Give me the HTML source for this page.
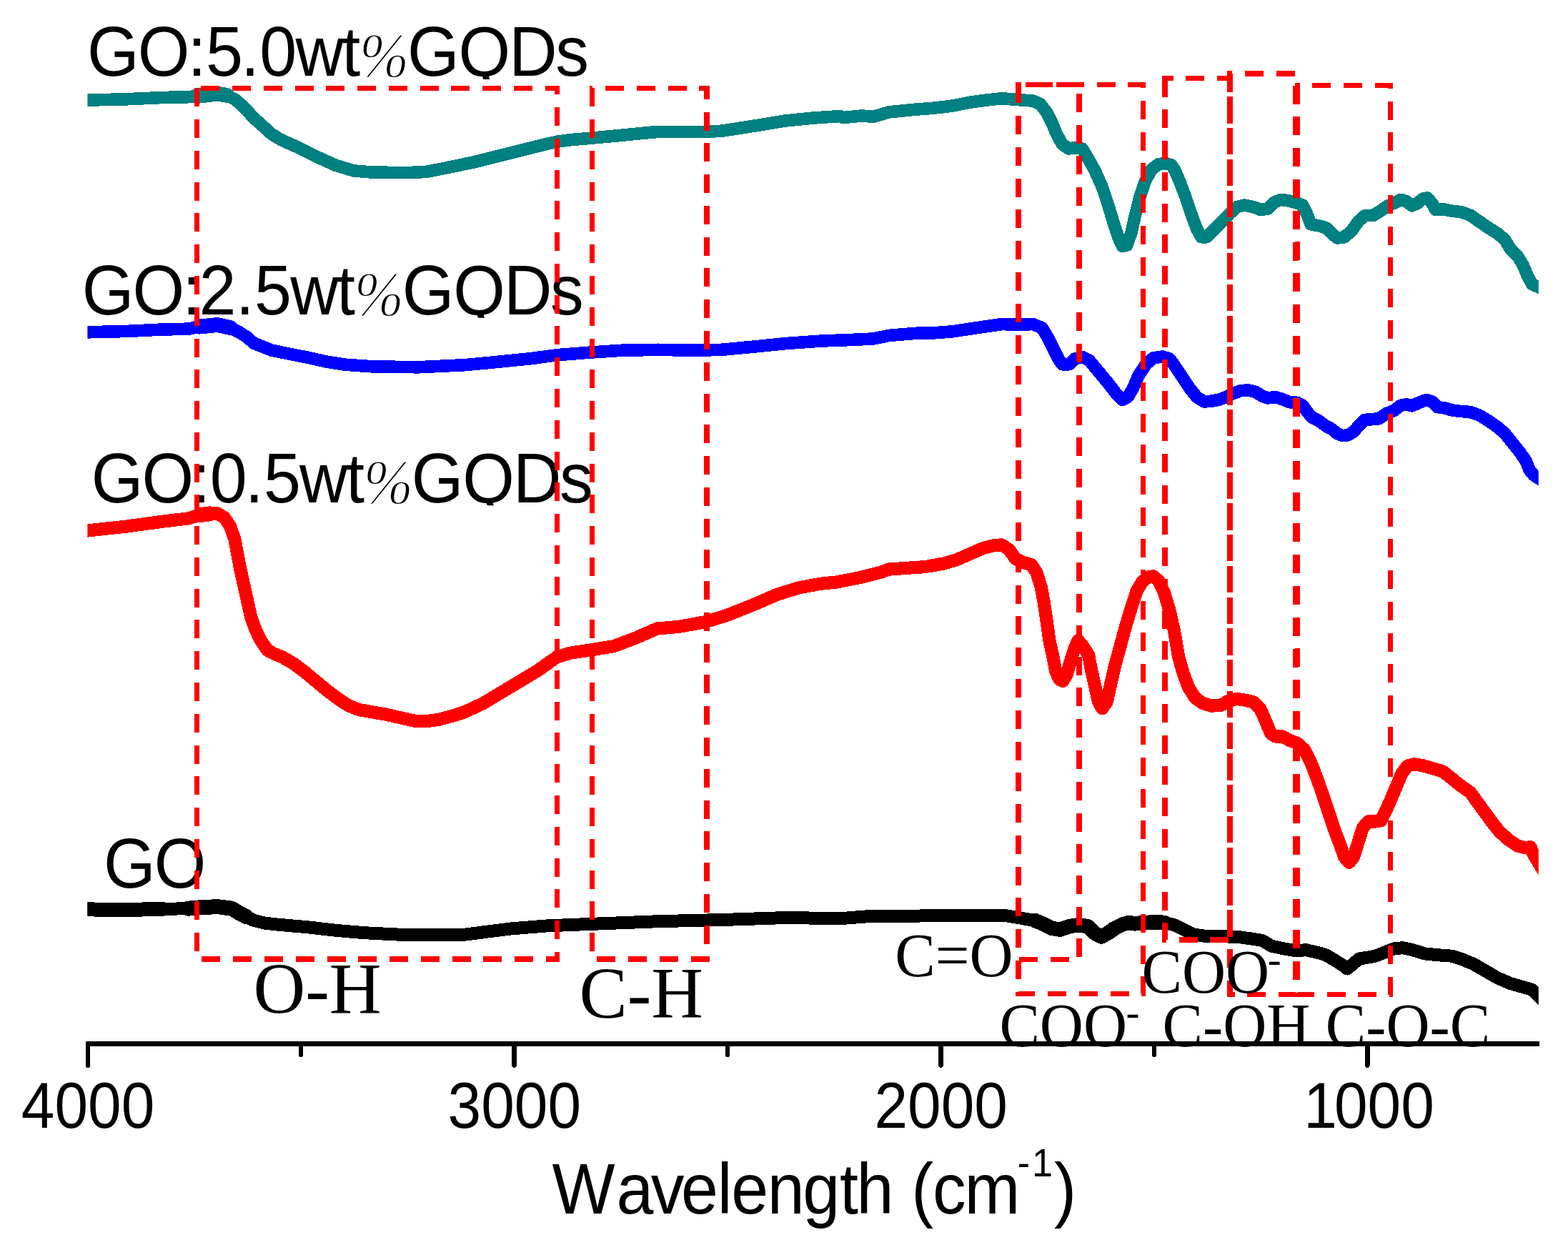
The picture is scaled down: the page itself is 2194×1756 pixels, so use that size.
<!DOCTYPE html>
<html><head><meta charset="utf-8"><title>FTIR spectra</title>
<style>
html,body{margin:0;padding:0;background:#fff;}
body{width:2194px;height:1756px;overflow:hidden;}
svg{display:block;}
</style></head>
<body>
<svg width="2194" height="1756" viewBox="0 0 2194 1756">
<rect width="2194" height="1756" fill="#fff"/>
<g stroke="#000" stroke-width="6.4" fill="none" stroke-linecap="round" shape-rendering="crispEdges">
<path d="M119.6 1460.2 H2153.5" stroke-width="7.0" stroke-linecap="butt"/>
<path d="M122.8 1460.2 V1490.8"/>
<path d="M719.6 1460.2 V1490.8"/>
<path d="M1316.5 1460.2 V1490.8"/>
<path d="M1913.4 1460.2 V1490.8"/>
<path d="M421.2 1460.2 V1475.7"/>
<path d="M1018.1 1460.2 V1475.7"/>
<path d="M1614.9 1460.2 V1475.7"/>
</g>
<defs><clipPath id="plotclip"><rect x="122.4" y="0" width="2030.4" height="1500"/></clipPath></defs>
<g clip-path="url(#plotclip)" fill="none" stroke-linejoin="round" shape-rendering="crispEdges">
<path d="M110.4 1272.3 L122.4 1272.4 L176.5 1273.0 L227.6 1271.9 L263.3 1271.2 L278.6 1269.9 L304.1 1268.6 L324.5 1271.2 L334.7 1277.6 L344.9 1282.7 L355.1 1287.8 L370.4 1291.6 L393.4 1294.1 L431.6 1297.4 L469.9 1301.8 L508.2 1305.1 L559.2 1307.7 L610.2 1308.2 L650.0 1307.7 L714.3 1299.5 L765.3 1295.4 L816.3 1293.3 L918.4 1289.3 L1020.4 1286.7 L1094.0 1284.2 L1180.0 1284.9 L1222.1 1281.6 L1256.5 1282.1 L1307.6 1281.1 L1358.6 1280.8 L1407.0 1281.1 L1424.9 1284.1 L1447.9 1288.0 L1460.6 1293.1 L1470.8 1298.7 L1483.6 1300.7 L1496.3 1296.1 L1509.1 1294.3 L1521.8 1296.1 L1532.0 1305.8 L1541.0 1310.4 L1549.9 1305.8 L1560.1 1298.7 L1570.3 1293.6 L1579.2 1291.0 L1588.2 1292.3 L1600.9 1291.0 L1613.7 1290.5 L1629.0 1290.8 L1641.7 1293.8 L1644.0 1294.6 L1654.2 1299.7 L1669.5 1307.3 L1689.9 1310.4 L1710.3 1310.4 L1730.7 1310.7 L1751.1 1313.5 L1766.4 1316.0 L1779.2 1323.7 L1797.1 1327.5 L1812.4 1330.1 L1827.7 1329.3 L1843.0 1332.6 L1855.7 1336.4 L1868.5 1344.1 L1878.7 1350.5 L1885.1 1355.6 L1892.7 1349.2 L1901.7 1341.5 L1914.4 1339.5 L1924.6 1337.7 L1937.4 1332.6 L1950.1 1327.5 L1962.9 1326.2 L1975.6 1328.8 L1993.5 1334.4 L2013.9 1336.4 L2031.8 1337.7 L2047.1 1342.8 L2062.4 1349.2 L2077.7 1358.1 L2095.5 1368.3 L2113.4 1376.0 L2131.2 1381.1 L2144.0 1384.9 L2152.9 1393.8 L2164.8 1405.7" stroke="#000" stroke-width="18"/>
<path d="M110.4 1272.3 L122.4 1272.4 L176.5 1273.0 L227.6 1271.9" stroke="#000" stroke-width="20" stroke-linecap="round"/>
<path d="M263.3 1271.2 L278.6 1269.9 L304.1 1268.6 L324.5 1271.2 L334.7 1277.6 L344.9 1282.7" stroke="#000" stroke-width="21" stroke-linecap="round"/>
<path d="M1447.9 1288.0 L1460.6 1293.1 L1470.8 1298.7 L1483.6 1300.7 L1496.3 1296.1 L1509.1 1294.3 L1521.8 1296.1 L1532.0 1305.8 L1541.0 1310.4 L1549.9 1305.8 L1560.1 1298.7 L1570.3 1293.6 L1579.2 1291.0 L1588.2 1292.3 L1600.9 1291.0 L1613.7 1290.5 L1629.0 1290.8" stroke="#000" stroke-width="20.5" stroke-linecap="round"/>
<path d="M110.4 743.8 L122.4 742.5 L176.5 736.6 L227.6 729.7 L263.3 725.4 L278.6 720.8 L293.9 718.8 L304.1 718.3 L314.3 724.6 L321.9 736.1 L328.3 754.0 L332.1 774.4 L336.0 794.8 L341.1 817.8 L346.2 840.7 L351.3 863.7 L357.7 881.5 L365.3 896.8 L374.2 909.6 L383.2 914.7 L395.9 919.8 L411.2 928.7 L426.5 940.2 L441.8 953.0 L457.1 965.7 L472.4 977.2 L487.8 987.4 L503.1 993.3 L520.9 996.3 L538.8 999.4 L559.2 1004.0 L579.6 1008.6 L597.4 1009.1 L615.3 1006.5 L635.7 1000.9 L650.0 996.3 L676.1 984.1 L714.1 961.3 L752.1 938.5 L778.8 919.5 L797.8 913.7 L828.2 909.2 L858.7 904.2 L889.1 892.8 L919.5 879.5 L949.9 876.9 L988.0 870.0 L1018.4 860.5 L1056.4 845.3 L1086.9 832.0 L1117.3 822.5 L1147.7 816.8 L1170.6 814.5 L1180.0 812.7 L1205.5 807.6 L1231.0 801.2 L1243.8 796.6 L1269.3 794.8 L1294.8 793.1 L1320.3 788.5 L1338.2 783.4 L1358.6 774.4 L1376.4 766.8 L1391.7 763.0 L1401.9 762.4 L1412.1 769.3 L1421.1 782.1 L1432.6 787.2 L1442.8 789.7 L1450.4 801.2 L1456.8 821.6 L1460.6 842.0 L1464.4 867.6 L1468.3 895.6 L1473.4 918.6 L1477.2 939.0 L1482.3 950.5 L1487.4 953.0 L1492.5 944.1 L1497.6 926.2 L1502.7 909.6 L1508.6 896.1 L1514.7 903.3 L1523.1 916.5 L1526.9 936.4 L1532.0 959.4 L1537.1 982.3 L1542.2 991.3 L1548.6 982.3 L1553.7 959.4 L1560.1 931.3 L1567.8 903.3 L1575.4 875.2 L1583.1 849.7 L1590.7 826.7 L1598.4 814.0 L1606.0 807.6 L1613.7 806.3 L1621.3 812.7 L1629.0 829.3 L1636.6 854.8 L1643.0 882.9 L1649.1 918.7 L1655.5 941.6 L1663.1 962.0 L1672.1 976.1 L1682.3 983.7 L1695.0 987.6 L1707.8 987.0 L1718.0 981.2 L1730.7 977.9 L1743.5 979.9 L1753.7 982.4 L1763.9 992.7 L1771.6 1010.5 L1777.9 1025.8 L1784.3 1030.4 L1794.5 1030.4 L1804.7 1036.0 L1814.9 1039.8 L1825.1 1048.8 L1834.1 1066.6 L1843.0 1089.6 L1851.9 1115.1 L1859.6 1138.1 L1867.2 1161.0 L1874.9 1181.4 L1881.2 1199.3 L1887.6 1206.9 L1894.0 1199.3 L1900.4 1178.9 L1906.8 1158.5 L1914.4 1149.5 L1923.3 1149.5 L1932.3 1148.3 L1939.9 1133.0 L1947.6 1115.1 L1955.2 1097.2 L1961.6 1081.9 L1969.3 1071.7 L1978.2 1069.2 L1990.9 1071.2 L2006.2 1075.6 L2019.0 1079.4 L2031.8 1089.6 L2044.5 1099.8 L2057.3 1108.7 L2067.5 1122.8 L2077.7 1136.8 L2087.9 1150.8 L2098.1 1163.6 L2110.8 1175.1 L2123.6 1183.5 L2133.8 1186.0 L2141.4 1185.3 L2145.3 1194.2 L2149.0 1201.0 L2153.0 1207.5 L2164.8 1226.7" stroke="#f00" stroke-width="18.2"/>
<path d="M278.6 720.8 L293.9 718.8" stroke="#f00" stroke-width="21" stroke-linecap="round"/>
<path d="M110.4 465.1 L122.4 464.8 L176.5 463.5 L227.6 461.0 L263.3 460.2 L278.6 457.1 L304.1 454.6 L321.9 458.4 L334.7 464.8 L344.9 471.2 L355.1 480.1 L367.9 485.2 L380.6 490.3 L406.1 495.4 L431.6 500.5 L457.1 506.1 L482.7 510.2 L520.9 512.8 L584.7 513.8 L623.0 512.0 L650.0 510.7 L691.0 506.9 L742.0 501.8 L779.8 496.7 L828.3 492.9 L869.6 490.3 L920.6 489.3 L971.6 490.3 L1009.9 489.3 L1048.2 485.7 L1099.2 480.6 L1150.2 477.0 L1190.0 475.5 L1222.1 474.0 L1243.8 469.4 L1282.0 466.3 L1307.6 465.8 L1333.1 463.8 L1358.6 459.9 L1384.1 456.1 L1401.9 453.6 L1424.9 454.1 L1445.3 453.6 L1458.1 458.7 L1465.7 471.4 L1473.4 486.7 L1481.0 502.0 L1486.1 509.7 L1496.3 509.7 L1504.0 502.0 L1514.2 499.5 L1524.4 504.6 L1537.1 519.9 L1549.9 535.2 L1562.7 551.8 L1570.3 559.4 L1578.0 555.6 L1585.6 542.9 L1593.3 525.0 L1603.5 509.7 L1613.7 500.8 L1626.4 499.0 L1636.6 502.0 L1644.0 512.2 L1654.2 527.6 L1664.4 542.9 L1674.6 555.6 L1684.8 562.0 L1695.0 561.2 L1705.2 559.4 L1715.4 555.6 L1725.6 550.5 L1735.8 546.7 L1746.0 545.9 L1756.2 548.0 L1766.4 554.3 L1774.1 556.9 L1784.3 555.6 L1794.5 558.7 L1804.7 562.8 L1814.9 563.3 L1822.6 567.1 L1828.9 576.0 L1835.3 583.7 L1845.5 588.8 L1855.7 596.4 L1863.4 600.3 L1871.0 606.6 L1878.7 609.7 L1886.3 608.7 L1894.0 604.1 L1901.7 595.2 L1909.3 587.5 L1919.5 586.7 L1929.7 585.7 L1939.9 578.6 L1950.1 574.7 L1960.3 567.1 L1968.0 565.8 L1975.6 567.9 L1985.8 563.3 L1996.0 559.4 L2003.7 562.0 L2011.3 569.6 L2021.6 570.9 L2031.8 574.0 L2044.5 575.5 L2057.3 576.5 L2070.0 581.1 L2082.8 588.8 L2095.5 597.7 L2105.7 606.6 L2115.9 619.4 L2126.1 632.1 L2135.1 644.9 L2140.2 657.7 L2146.6 665.3 L2152.9 669.1 L2164.8 676.3" stroke="#00f" stroke-width="17.6"/>
<path d="M278.6 457.1 L304.1 454.6 L321.9 458.4" stroke="#00f" stroke-width="21" stroke-linecap="round"/>
<path d="M110.4 140.3 L122.4 140.1 L176.5 138.8 L227.6 136.5 L263.3 135.7 L276.0 134.4 L291.3 132.7 L304.1 131.1 L316.8 133.2 L329.6 139.5 L342.3 151.0 L355.1 165.1 L367.9 176.5 L380.6 188.0 L393.4 195.7 L418.9 207.1 L444.4 219.9 L469.9 231.4 L495.4 239.0 L520.9 241.1 L571.9 241.6 L597.4 240.3 L623.0 235.2 L650.0 229.6 L665.5 226.3 L691.0 219.9 L716.5 213.5 L742.0 207.1 L767.6 200.8 L779.8 198.2 L798.2 195.7 L828.3 193.1 L869.6 189.3 L895.1 186.7 L920.6 184.4 L946.1 184.7 L989.0 184.4 L1009.9 183.2 L1048.2 177.3 L1099.2 168.9 L1137.4 165.1 L1175.7 162.5 L1180.0 164.6 L1205.5 162.0 L1222.1 163.3 L1243.8 156.9 L1282.0 153.1 L1307.6 151.1 L1333.1 148.0 L1358.6 142.9 L1384.1 139.6 L1401.9 137.8 L1424.9 139.6 L1445.3 141.1 L1455.5 145.5 L1464.4 156.9 L1472.1 172.2 L1478.5 187.6 L1486.1 201.6 L1495.1 208.0 L1504.0 206.7 L1514.2 208.0 L1521.8 220.7 L1532.0 238.6 L1542.2 261.5 L1549.9 284.5 L1557.6 310.0 L1565.2 333.0 L1570.3 344.4 L1576.7 343.2 L1583.1 325.3 L1588.2 302.3 L1594.5 276.8 L1602.2 253.9 L1611.1 237.3 L1621.3 229.6 L1630.3 228.4 L1639.2 230.9 L1644.0 238.6 L1651.7 256.4 L1659.3 276.8 L1667.0 299.8 L1674.6 320.2 L1681.0 331.7 L1688.6 331.7 L1697.6 322.8 L1710.3 310.0 L1721.0 298.5 L1730.7 289.6 L1740.9 287.0 L1753.7 289.6 L1763.9 293.4 L1774.1 292.1 L1783.0 283.2 L1792.0 279.4 L1802.2 280.7 L1812.4 283.2 L1822.6 287.0 L1828.9 299.8 L1834.1 313.8 L1845.5 315.9 L1855.7 318.9 L1863.4 326.6 L1871.0 333.0 L1881.2 331.7 L1891.4 322.8 L1900.4 310.0 L1909.3 301.8 L1922.1 301.1 L1932.3 294.7 L1941.2 288.3 L1950.1 284.5 L1960.3 279.4 L1968.0 281.9 L1975.6 287.8 L1983.3 284.5 L1990.9 278.1 L1997.3 276.8 L2003.7 284.5 L2008.8 293.4 L2019.0 292.7 L2031.8 295.2 L2044.5 296.7 L2057.3 301.1 L2070.0 310.0 L2082.8 318.9 L2095.5 326.6 L2105.7 335.5 L2113.4 348.3 L2123.6 358.5 L2131.2 371.2 L2137.6 386.5 L2144.0 398.0 L2152.9 401.8 L2164.8 406.9" stroke="#008080" stroke-width="17.6"/>
<path d="M276.0 134.4 L291.3 132.7 L304.1 131.1 L316.8 133.2" stroke="#008080" stroke-width="21" stroke-linecap="round"/>
</g>
<defs><clipPath id="labclip"><rect x="0" y="-130" width="2400" height="134.5"/></clipPath></defs>
<text transform="translate(0 106.4) scale(0.9450 1)" font-family="'Liberation Sans', Arial, Helvetica, sans-serif" font-size="98.8" clip-path="url(#labclip)"><tspan x="129.1 204.0 277.8 304.8 356.7 384.5 437.5 506.2" y="0.0" font-size="98.8">GO:5.0wt</tspan><tspan x="532.2" y="1.0" font-size="88.0" font-family="'Liberation Serif', 'Times New Roman', Times, serif" font-style="italic" stroke="#fff" stroke-width="1.8">%</tspan><tspan x="603.3 678.9 753.7 822.6" y="0.0" font-size="98.8">GQDs</tspan></text>
<text transform="translate(0 440.3) scale(0.9450 1)" font-family="'Liberation Sans', Arial, Helvetica, sans-serif" font-size="98.8" clip-path="url(#labclip)"><tspan x="121.4 196.3 270.0 294.6 349.0 376.8 429.8 498.5" y="0.0" font-size="98.8">GO:2.5wt</tspan><tspan x="524.5" y="1.0" font-size="88.0" font-family="'Liberation Serif', 'Times New Roman', Times, serif" font-style="italic" stroke="#fff" stroke-width="1.8">%</tspan><tspan x="595.6 671.2 746.0 814.9" y="0.0" font-size="98.8">GQDs</tspan></text>
<text transform="translate(0 702.8) scale(0.9450 1)" font-family="'Liberation Sans', Arial, Helvetica, sans-serif" font-size="98.8" clip-path="url(#labclip)"><tspan x="135.1 210.0 283.8 310.9 362.7 390.5 443.5 512.3" y="0.0" font-size="98.8">GO:0.5wt</tspan><tspan x="538.3" y="1.0" font-size="88.0" font-family="'Liberation Serif', 'Times New Roman', Times, serif" font-style="italic" stroke="#fff" stroke-width="1.8">%</tspan><tspan x="609.3 685.0 759.7 828.7" y="0.0" font-size="98.8">GQDs</tspan></text>
<text transform="translate(0 1242.0) scale(0.9450 1)" font-family="'Liberation Sans', Arial, Helvetica, sans-serif" font-size="98.8"><tspan x="153.4 228.3" y="0.0" font-size="98.8">GO</tspan></text>
<text transform="translate(0 1578.0) scale(0.9260 1)" font-family="'Liberation Sans', Arial, Helvetica, sans-serif" font-size="90.5"><tspan x="32.2 82.5 132.9 183.2" y="0.0" font-size="90.5">4000</tspan></text>
<text transform="translate(0 1578.0) scale(0.9260 1)" font-family="'Liberation Sans', Arial, Helvetica, sans-serif" font-size="90.5"><tspan x="676.7 727.1 777.4 827.7" y="0.0" font-size="90.5">3000</tspan></text>
<text transform="translate(0 1578.0) scale(0.9260 1)" font-family="'Liberation Sans', Arial, Helvetica, sans-serif" font-size="90.5"><tspan x="1321.3 1371.6 1421.9 1472.3" y="0.0" font-size="90.5">2000</tspan></text>
<text transform="translate(0 1578.0) scale(0.9260 1)" font-family="'Liberation Sans', Arial, Helvetica, sans-serif" font-size="90.5"><tspan x="1970.1 2016.2 2066.5 2116.8" y="0.0" font-size="90.5">1000</tspan></text>
<text transform="translate(0 1698.2) scale(0.9400 1)" font-family="'Liberation Sans', Arial, Helvetica, sans-serif" font-size="99.3"><tspan x="821.9 917.6 969.0 1013.9 1067.9 1088.5 1142.3 1194.9 1250.0 1275.0 1329.8 1356.7 1388.2 1435.7" y="0.0" font-size="99.3">Wavelength (cm</tspan><tspan x="1514.6 1536.2" y="-52.0" font-size="55.5">-1</tspan><tspan x="1569.1" y="0.0" font-size="99.3">)</tspan></text>
<g stroke="#f00" fill="none" stroke-dasharray="26 17.77" stroke-linejoin="miter" shape-rendering="crispEdges">
<path d="M275.5 123.4 V1342.0 H779.8 V123.4 Z" stroke-width="7.2" stroke-dashoffset="0"/>
<path d="M828.3 123.4 V1342.0 H989.0 V123.4 Z" stroke-width="7.6" stroke-dashoffset="0"/>
<path d="M1424.9 118.4 V1342.6 H1509.8 V118.4 Z" stroke-width="7.6" stroke-dashoffset="0"/>
<path d="M1424.9 118.4 V1390.3 H1599.6 V118.4 Z" stroke-width="7.2" stroke-dashoffset="0"/>
<path d="M1629.9 109.5 V1315.3 H1721.2 V109.5 Z" stroke-width="7.8" stroke-dashoffset="0"/>
<path d="M1721.0 102.8 V1391.5 H1812.7 V102.8 Z" stroke-width="7.8" stroke-dashoffset="0"/>
<path d="M1815.5 119.6 V1391.5 H1945.8 V119.6 Z" stroke-width="7.2" stroke-dashoffset="0"/>
</g>
<text transform="translate(354.5 1418.2) scale(0.9880 1)" font-family="'Liberation Serif', 'Times New Roman', Times, serif" font-size="102.0" text-anchor="start" letter-spacing="0.00" >O-H</text>
<text transform="translate(810.5 1423.6) scale(0.9880 1)" font-family="'Liberation Serif', 'Times New Roman', Times, serif" font-size="102.0" text-anchor="start" letter-spacing="0.00" >C-H</text>
<text transform="translate(1252.3 1365.6) scale(0.9780 1)" font-family="'Liberation Serif', 'Times New Roman', Times, serif" font-size="86.5" text-anchor="start" letter-spacing="0.00" >C=O</text>
<text transform="translate(1597.6 1389.0) scale(0.9780 1)" font-family="'Liberation Serif', 'Times New Roman', Times, serif" font-size="86.5" text-anchor="start" letter-spacing="0.00" >COO<tspan font-size="58" dy="-28" dx="-2.5">-</tspan></text>
<text transform="translate(1398.4 1463.6) scale(0.9780 1)" font-family="'Liberation Serif', 'Times New Roman', Times, serif" font-size="86.5" text-anchor="start" letter-spacing="0.00" >COO<tspan font-size="58" dy="-29" dx="-1.5">-</tspan></text>
<text transform="translate(1626.6 1463.6) scale(0.9780 1)" font-family="'Liberation Serif', 'Times New Roman', Times, serif" font-size="86.5" text-anchor="start" letter-spacing="0.00" >C-OH</text>
<text transform="translate(1854.8 1463.6) scale(0.9780 1)" font-family="'Liberation Serif', 'Times New Roman', Times, serif" font-size="86.5" text-anchor="start" letter-spacing="0.00" >C-O-C</text>
</svg>
</body></html>
